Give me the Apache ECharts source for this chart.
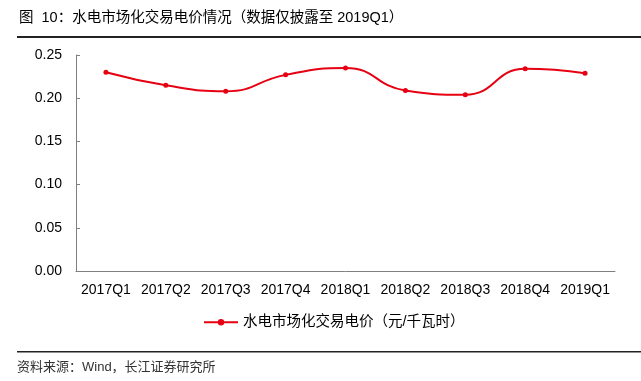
<!DOCTYPE html>
<html><head><meta charset="utf-8">
<script src="https://cdn.jsdelivr.net/npm/echarts@6/dist/echarts.min.js"></script>
<style>html,body{margin:0;padding:0;background:#fff}#c{width:641px;height:381px}</style>
</head><body><div id="c"></div>
<script>
const categories = ['2017Q1','2017Q2','2017Q3','2017Q4','2018Q1','2018Q2','2018Q3','2018Q4','2019Q1'];
const prices = [0.230, 0.215, 0.208, 0.227, 0.235, 0.209, 0.204, 0.234, 0.229];
const seriesName = '水电市场化交易电价（元/千瓦时）';
const titleText = '图  10：水电市场化交易电价情况（数据仅披露至 2019Q1）';
const sourceText = '资料来源：Wind，长江证券研究所';
const FONT = '"Liberation Sans", Arial, "Noto Sans CJK SC", sans-serif';

const chart = echarts.init(document.getElementById('c'));
chart.setOption({
  animation: false,
  textStyle: { fontFamily: FONT },
  grid: { left: 76, right: 26, top: 55, bottom: 110 },
  legend: {
    data: [seriesName], top: 315, left: 203, padding: 0,
    itemWidth: 34, itemHeight: 8, itemGap: 4,
    textStyle: { fontSize: 14.5, color: '#000', fontFamily: FONT }
  },
  xAxis: {
    type: 'category', data: categories, boundaryGap: true,
    axisLine: { lineStyle: { color: '#7f7f7f', width: 1 } },
    axisTick: { inside: true, length: 4, lineStyle: { color: '#7f7f7f' } },
    axisLabel: { color: '#000', fontSize: 14, margin: 12, interval: 0, fontFamily: FONT }
  },
  yAxis: {
    type: 'value', min: 0, max: 0.25, interval: 0.05,
    axisLine: { show: true, lineStyle: { color: '#7f7f7f', width: 1 } },
    axisTick: { show: true, inside: true, length: 4, lineStyle: { color: '#7f7f7f' } },
    splitLine: { show: false },
    axisLabel: { color: '#000', fontSize: 14, margin: 14, fontFamily: FONT,
      formatter: v => v.toFixed(2) }
  },
  series: [{
    name: seriesName, type: 'line', data: prices, smooth: 0.5,
    symbol: 'circle', symbolSize: 5,
    lineStyle: { color: '#e60012', width: 2 },
    itemStyle: { color: '#e60012' }
  }],
  graphic: [
    { type: 'text', left: 19, top: 11, style: { text: titleText, fontSize: 14.5, fill: '#000', fontFamily: FONT } },
    { type: 'rect', shape: { x: 17, y: 36, width: 624, height: 2 }, style: { fill: '#222' } },
    { type: 'rect', shape: { x: 17, y: 351, width: 624, height: 1.5 }, style: { fill: '#222' } },
    { type: 'text', left: 17, top: 361, style: { text: sourceText, fontSize: 13, fill: '#333', fontFamily: FONT } }
  ]
});
</script></body></html>
